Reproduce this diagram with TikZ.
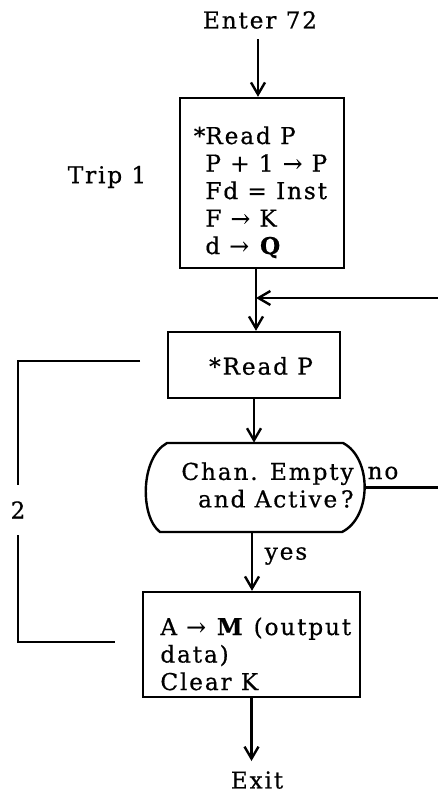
\documentclass[tikz,border=0pt]{standalone}
\usepackage{fontspec}
\setmainfont{DejaVu Serif}[LetterSpace=8,FakeBold=0.6]
\usetikzlibrary{arrows.meta,calc}
\begin{document}
\begin{tikzpicture}[x=0.5pt,y={(0pt,-0.5pt)},
  font=\fontsize{11.6}{13.75}\selectfont,
  ln/.style={line width=1.2pt},
  arr/.style={line width=1.2pt,-{Straight Barb[length=6pt,width=7pt,line width=1.2pt]}},
  box/.style={draw,line width=1.2pt,rectangle,inner sep=0pt},
  txt/.style={inner sep=0pt,align=left}]
\useasboundingbox (0,0) rectangle (438,796);

% nodes
\node[inner sep=5pt] (enter) at (260,20) {Enter 72};
\node[box,minimum width=82pt,minimum height=85pt] (b1) at (262,183) {};
\node[txt,anchor=north west] (t1) at (205,126)
  {\llap{*}Read P\\P + 1 → P\\Fd = Inst\\F → K\\d → \textbf{Q}};
\node (trip) at (107,177) {Trip 1};

\node[box,minimum width=86pt,minimum height=33pt] (b2) at (254,365) {};
\node[inner sep=0pt] (t2) at (261,366) {*Read P};

\node[minimum width=109pt,minimum height=44.5pt,inner sep=0pt] (dec) at (256,487.5) {};
\draw[ln] (167,443) -- (343,443) .. controls (372,458) and (372,517) .. (342,532)
  -- (160,532) .. controls (140,517) and (140,458) .. (167,443) -- cycle;
\node[inner sep=0pt,align=right,anchor=east] (dect) at (354,485) {Chan. Empty\\and Active\,?};
\node[inner sep=0pt] (no) at (383,473) {no};
\node[inner sep=0pt] (yes) at (286,556) {yes};

\node[box,minimum width=108.5pt,minimum height=52.5pt] (b3) at (251.5,644.5) {};
\node[txt,anchor=north west] (t3) at (160,617)
  {A → \textbf{M} (output\\data)\\Clear K};

\node[inner sep=0pt,anchor=north] (exit) at (257,771) {Exit};

% helper coordinates
\coordinate (loopin) at (438,298);
\coordinate (merge) at (256,298);
\coordinate (noout) at (438,487.5);
\coordinate (l1) at (140,361);
\coordinate (l2) at (18,361);
\coordinate (l3) at (18,642);
\coordinate (l4) at (115,642);

% connectors
\draw[arr] ([xshift=-1pt]enter.south) -- ([xshift=-1pt]enter.south |- b1.north);
\draw[arr] ([xshift=-3pt]b1.south) -- ([xshift=-3pt]b1.south |- b2.north);
\draw[arr] (loopin) -- (merge);
\draw[arr] (b2.south) -- (b2.south |- dec.north);
\draw[ln] (dec.east) -- (noout);
\draw[arr] ([xshift=-2pt]dec.south) -- ([xshift=-2pt]dec.south |- b3.north);
\draw[arr] (b3.south) -- ([yshift=5pt]b3.south |- exit.north);
\draw[ln] (l1) -- (l2) -- node[fill=white,minimum height=25pt,inner sep=0pt,pos=0.53] (two) {2} (l3) -- (l4);
\end{tikzpicture}
\end{document}
